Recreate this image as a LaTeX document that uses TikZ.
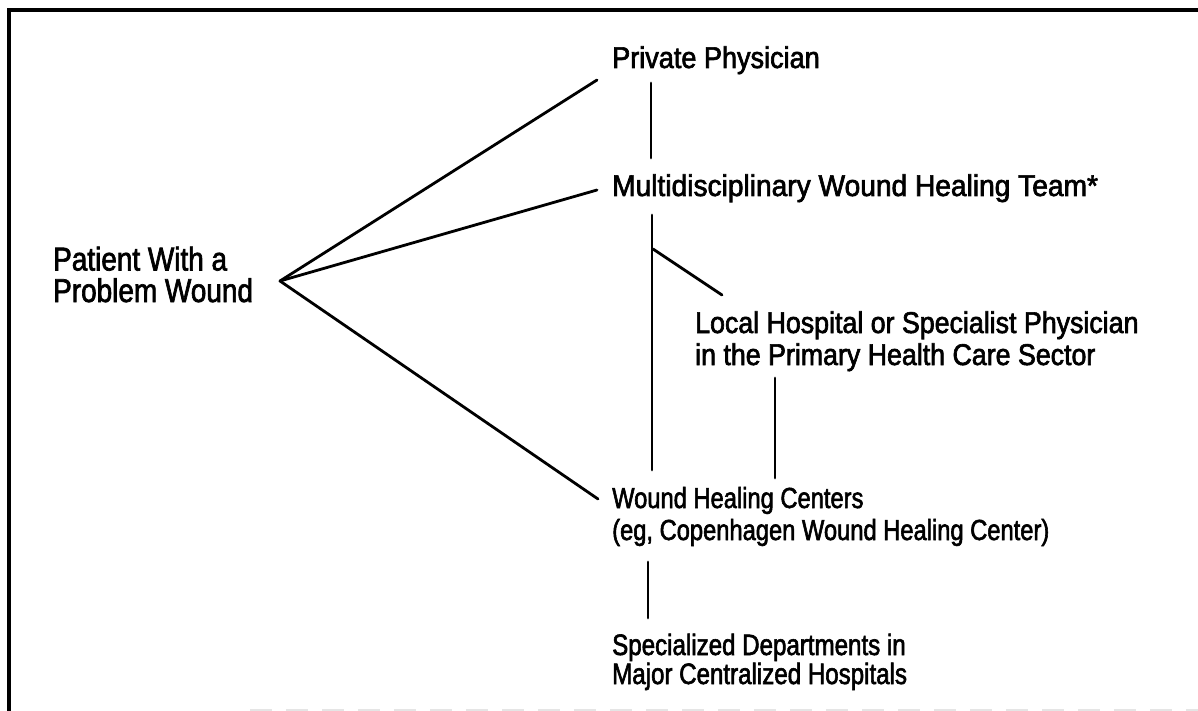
\documentclass[tikz,border=0pt]{standalone}
\usepackage{graphicx}
\usepackage{fontspec}
\setmainfont{Liberation Sans}[FakeStretch=0.83,FakeBold=2]
\newcommand{\hs}[2]{\scalebox{#1}[1]{#2}}
\begin{document}
\begin{tikzpicture}[x=1pt,y=-1pt,
  lbl/.style={anchor=base west, inner sep=0pt, align=left},
  link/.style={line width=2.8pt, line cap=round},
  frameline/.style={line width=3.5pt}]
\useasboundingbox (0,0) rectangle (1198,711);
% frame
\draw[frameline] (9,711) -- (9,10) -- (1198,10);
\draw[gray!20, line width=2pt, dash pattern=on 22pt off 14pt] (250,709.5) -- (1198,709.5);
% text nodes (anchored at the baseline of the last line)
\node[lbl, font=\fontsize{33}{31.5}\selectfont] (pat) at (53,302)
  {\hs{1.02}{Patient With a}\\\hs{1.02}{Problem Wound}};
\node[lbl, font=\fontsize{30}{32}\selectfont] (pp) at (612,68)
  {\hs{1.087}{Private Physician}};
\node[lbl, font=\fontsize{30}{32}\selectfont] (mwt) at (612,196)
  {\hs{1.13}{Multidisciplinary Wound Healing Team*}};
\node[lbl, font=\fontsize{30}{32}\selectfont] (loc) at (695,365)
  {\hs{1.075}{Local Hospital or Specialist Physician}\\\hs{1.075}{in the Primary Health Care Sector}};
\node[lbl, font=\fontsize{29}{32}\selectfont] (whc) at (612,540)
  {\hs{0.985}{Wound Healing Centers}\\\hs{0.985}{(eg, Copenhagen Wound Healing Center)}};
\node[lbl, font=\fontsize{29.5}{29}\selectfont] (spd) at (612,684)
  {\hs{0.985}{Specialized Departments in}\\\hs{0.985}{Major Centralized Hospitals}};
% connector ends
\coordinate (apex) at (280,281);
\coordinate (ppIn) at (597,80);
\coordinate (mwtIn) at (597,190);
\coordinate (whcIn) at (598,499);
\coordinate (ppDown) at (651,83);
\coordinate (mwtUp) at (651,158);
\coordinate (mwtDown) at (652,215);
\coordinate (whcUp) at (652,470);
\coordinate (branch) at (653,249);
\coordinate (locIn) at (722,295);
\coordinate (locDown) at (775,378);
\coordinate (whcUp2) at (775,478);
\coordinate (whcDown) at (648,562);
\coordinate (spdUp) at (648,618);
% connectors
\draw[link] (apex) -- (ppIn);
\draw[link] (apex) -- (mwtIn);
\draw[link] (apex) -- (whcIn);
\draw[link] (ppDown) -- (mwtUp);
\draw[link] (mwtDown) -- (whcUp);
\draw[link] (branch) -- (locIn);
\draw[link] (locDown) -- (whcUp2);
\draw[link] (whcDown) -- (spdUp);
\end{tikzpicture}
\end{document}
